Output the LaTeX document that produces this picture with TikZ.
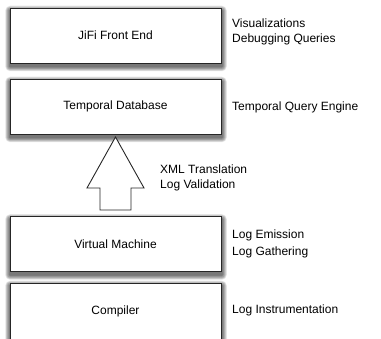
\documentclass[tikz,border=0pt]{standalone}
\usepackage{fontspec}
\setmainfont{Liberation Sans}
\usetikzlibrary{backgrounds}
\begin{document}
\begin{tikzpicture}[x=1pt,y=-1pt,
  layer/.style={draw=black!85, line width=0.9pt, fill=white, minimum width=211pt, minimum height=55pt,
    inner sep=0pt, font=\fontsize{12}{14}\selectfont},
  shadowpart/.style={fill=black, opacity=0.09},
  note/.style={anchor=west, inner sep=0pt, font=\fontsize{12}{14}\selectfont}]
\useasboundingbox (0,0) rectangle (381,339);
\begin{scope}
\clip (0,0) rectangle (381,339);
\node[layer] (front) at (115.5,35.5) {JiFi Front End};
\node[layer] (db) at (115.5,106.5) {Temporal Database};
\node[layer] (vm) at (115.5,244) {Virtual Machine};
\node[layer, minimum height=70pt] (comp) at (115.5,318) {};
\node[font=\fontsize{12}{14}\selectfont] (comptext) at (115.5,311) {Compiler};
\begin{scope}[on background layer]
\foreach \n in {front,db,vm,comp}{
  \foreach \r in {0.6,1.2,...,4.8}{
    \fill[shadowpart, rounded corners=\r pt]
      ([xshift=-\r pt+0.5pt, yshift=-3pt+\r pt]\n.north west) rectangle
      ([xshift=\r pt+0.5pt, yshift=-3pt-\r pt]\n.south east);
  }
}
\end{scope}
\end{scope}
\coordinate (tip) at (115.5,137);
\draw[black!85, line width=0.9pt, fill=white]
  (tip) -- (144,188) -- (131,188) -- (131,210) -- (100,210) -- (100,188) -- (87,188) -- cycle;
\node[note] (n1a) at (232,23) {Visualizations};
\node[note] (n1b) at (232,39.5) {Debugging Queries};
\node[note] (n2) at (232,107) {Temporal Query Engine};
\node[note] (n3a) at (160,169) {XML Translation};
\node[note] (n3b) at (160,185) {Log Validation};
\node[note] (n4a) at (232,235) {Log Emission};
\node[note] (n4b) at (232,252) {Log Gathering};
\node[note] (n5) at (232,310) {Log Instrumentation};
\end{tikzpicture}
\end{document}
